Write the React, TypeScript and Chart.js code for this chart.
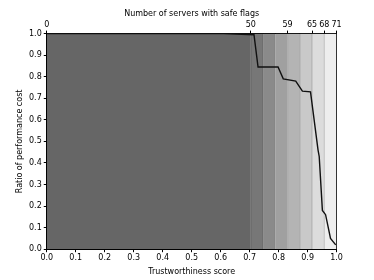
import React, { useEffect, useRef } from "react";
import { Chart, registerables } from "chart.js";

Chart.register(...registerables);

// Performance-cost curve (bottom axis: trustworthiness score)
const scores = [0, 0.61, 0.715, 0.729, 0.798, 0.816, 0.859, 0.882, 0.91, 0.936, 0.94, 0.951, 0.962, 0.979, 0.997];
const ratios = [1.0, 1.0, 0.995, 0.845, 0.845, 0.79, 0.78, 0.733, 0.73, 0.46, 0.43, 0.18, 0.16, 0.05, 0.02];

// Shaded bands (top axis: number of servers with safe flags)
const bandEdges = [0, 50, 53, 56, 59, 62, 65, 68, 71];
const bandColors = ["#666666", "#777777", "#8a8a8a", "#a0a0a0", "#b4b4b4", "#c9c9c9", "#dcdcdc", "#eeeeee"];
const topTicks = [0, 50, 59, 65, 68, 71];
const yTicks = [0, 0.1, 0.2, 0.3, 0.4, 0.5, 0.6, 0.7, 0.8, 0.9, 1.0];
const xTicks = [0, 0.1, 0.2, 0.3, 0.4, 0.5, 0.6, 0.7, 0.8, 0.9, 1.0];

const FONT = { family: "'DejaVu Sans', sans-serif", size: 8 };

export default function App() {
  const ref = useRef<HTMLCanvasElement>(null);
  useEffect(() => {
    const canvas = ref.current!;
    const datasets: any[] = [];
    datasets.push({
      type: "line",
      data: scores.map((s, i) => ({ x: s, y: ratios[i] })),
      xAxisID: "x",
      yAxisID: "y",
      borderColor: "#111111",
      borderWidth: 1.4,
      pointRadius: 0,
      fill: false,
      tension: 0,
    });
    for (let i = 1; i < bandEdges.length - 1; i++) {
      datasets.push({
        type: "line",
        data: [
          { x: bandEdges[i], y: 0 },
          { x: bandEdges[i], y: 1 },
        ],
        xAxisID: "x2",
        yAxisID: "y",
        borderColor: "rgba(0,0,0,0.2)",
        borderWidth: 1,
        pointRadius: 0,
        fill: false,
      });
    }
    for (let i = 0; i < bandColors.length; i++) {
      datasets.push({
        type: "line",
        data: [
          { x: bandEdges[i], y: 1 },
          { x: bandEdges[i + 1], y: 1 },
        ],
        xAxisID: "x2",
        yAxisID: "y",
        borderWidth: 0,
        borderColor: "rgba(0,0,0,0)",
        backgroundColor: bandColors[i],
        pointRadius: 0,
        fill: "origin",
      });
    }
    const tickCommon = { color: "#000", font: FONT };
    const chart = new Chart(canvas, {
      type: "line",
      data: { datasets },
      options: {
        animation: false,
        responsive: false,
        events: [],
        layout: { padding: { left: 0, right: 37.4, top: 0, bottom: 0 } },
        plugins: { legend: { display: false }, tooltip: { enabled: false } },
        scales: {
          x: {
            type: "linear",
            position: "bottom",
            min: 0,
            max: 1,
            afterBuildTicks: (s: any) => {
              s.ticks = xTicks.map((v) => ({ value: v }));
            },
            afterFit: (s: any) => {
              s.height = 30.8;
            },
            ticks: { ...tickCommon, padding: 1, maxRotation: 0, callback: (v: any) => Number(v).toFixed(1) },
            grid: { drawOnChartArea: false, drawTicks: true, tickLength: 3, tickColor: "#000" },
            border: { color: "#000", width: 1 },
            title: { display: true, text: "Trustworthiness score", color: "#000", font: FONT, padding: { top: 0, bottom: 3.5 } },
          },
          x2: {
            type: "linear",
            position: "top",
            min: 0,
            max: 71,
            afterBuildTicks: (s: any) => {
              s.ticks = topTicks.map((v) => ({ value: v }));
            },
            afterFit: (s: any) => {
              s.height = 33.6;
            },
            ticks: { ...tickCommon, padding: 1, maxRotation: 0, autoSkip: false },
            grid: { drawOnChartArea: false, drawTicks: true, tickLength: 3, tickColor: "#000" },
            border: { color: "#000", width: 1 },
            title: { display: true, text: "Number of servers with safe flags", color: "#000", font: FONT, padding: { top: 9.5, bottom: 0 } },
          },
          y: {
            type: "linear",
            position: "left",
            min: 0,
            max: 1,
            afterBuildTicks: (s: any) => {
              s.ticks = yTicks.map((v) => ({ value: v }));
            },
            afterFit: (s: any) => {
              s.width = 46.75;
            },
            ticks: { ...tickCommon, padding: 2, callback: (v: any) => Number(v).toFixed(1) },
            grid: { drawOnChartArea: false, drawTicks: true, tickLength: 3, tickColor: "#000" },
            border: { color: "#000", width: 1 },
            title: { display: true, text: "Ratio of performance cost", color: "#000", font: FONT, padding: { top: 15, bottom: 0 } },
          },
          yR: {
            type: "linear",
            position: "right",
            min: 0,
            max: 1,
            afterFit: (s: any) => {
              s.width = 0;
            },
            ticks: { display: false },
            grid: { drawOnChartArea: false, drawTicks: false },
            border: { color: "#000", width: 1 },
          },
        },
      },
    });
    return () => chart.destroy();
  }, []);
  return (
    <div style={{ position: "absolute", left: 0, top: 0, width: 374, height: 280, background: "#fff" }}>
      <canvas ref={ref} width={374} height={280} style={{ width: 374, height: 280, display: "block" }} />
    </div>
  );
}
